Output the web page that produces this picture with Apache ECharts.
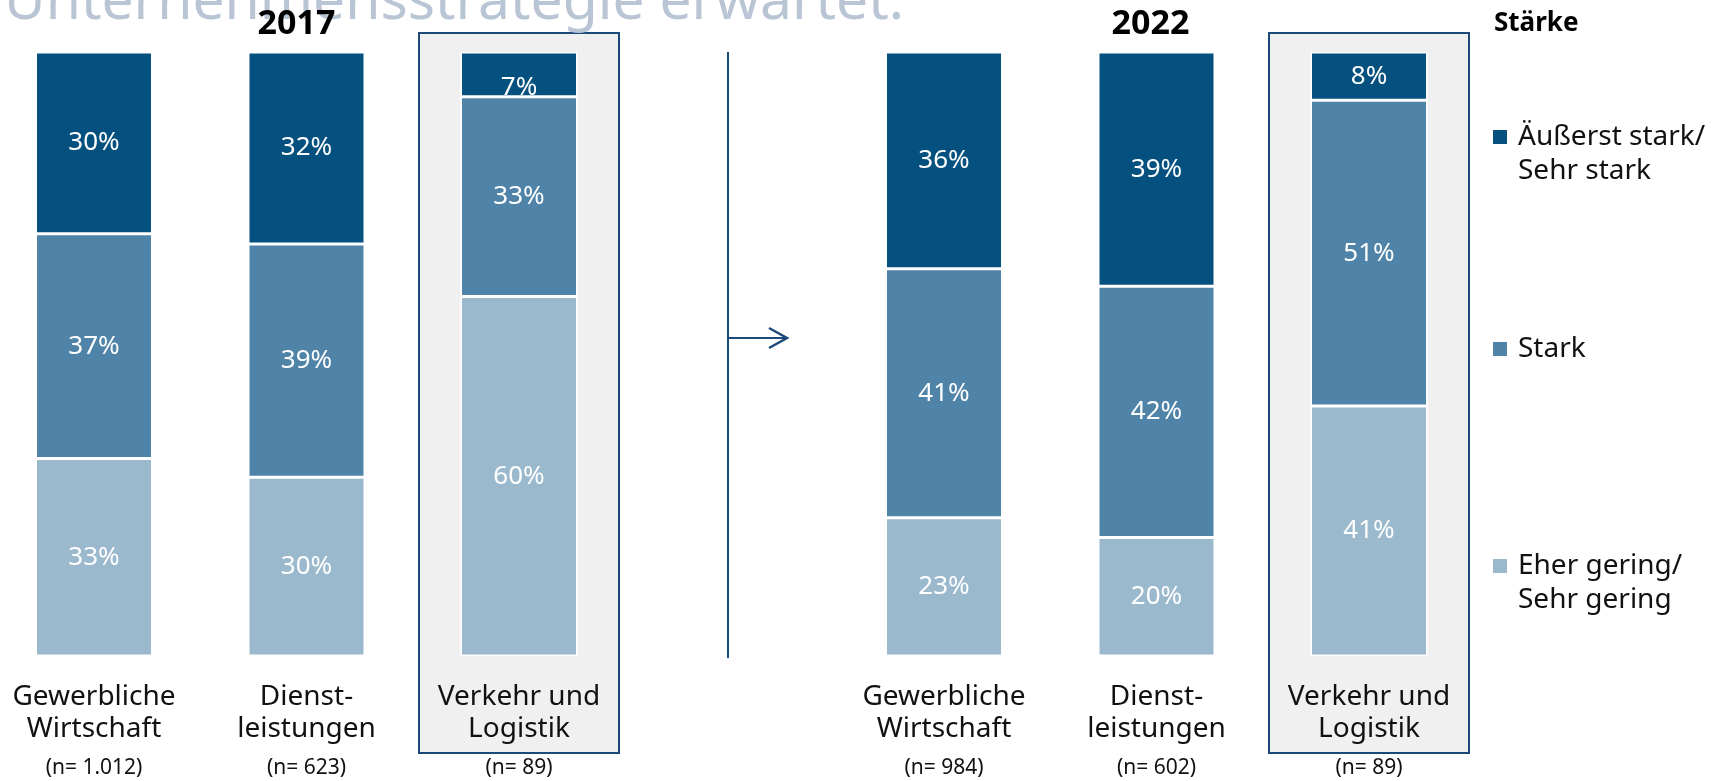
<!DOCTYPE html>
<html>
<head>
<meta charset="utf-8">
<script src="https://cdn.jsdelivr.net/npm/echarts@6/dist/echarts.min.js"></script>
<style>
  html, body { margin: 0; padding: 0; background: #ffffff; }
  #chart { width: 1719px; height: 781px; }
</style>
</head>
<body>
<div id="chart"></div>
<script>
// ---- data ----
const categoryLine1 = ['Gewerbliche', 'Dienst-', 'Verkehr und', '', 'Gewerbliche', 'Dienst-', 'Verkehr und'];
const categoryLine2 = ['Wirtschaft', 'leistungen', 'Logistik', '', 'Wirtschaft', 'leistungen', 'Logistik'];
const sampleSizes   = ['1.012', '623', '89', '', '984', '602', '89'];
const yearLabels    = ['2017', '2022'];
const seriesNames   = ['Eher gering/\nSehr gering', 'Stark', 'Äußerst stark/\nSehr stark'];
// shares (%) per bar, gap slot = null
const shareLow    = [32.7, 29.6, 59.5, null, 22.9, 19.6, 41.4];
const shareStrong = [37.2, 38.6, 33.1, null, 41.2, 41.6, 50.6];
const shareHigh   = [30.1, 31.8, 7.4,  null, 35.9, 38.8, 8.0];
const legendTitle = 'Stärke';
const pageTitle   = 'Unternehmensstrategie erwartet.';

// ---- style ----
const colors = ['#9ab9cd', '#4f84a8', '#04507f'];
const navy = '#1b4a7a';
const FONT = '"Noto Sans", sans-serif';

const chart = echarts.init(document.getElementById('chart'), null, { renderer: 'canvas' });

const categories = categoryLine1.map((l, i) => l ? (l + ' ' + categoryLine2[i]) : ' ');

function makeSeries(name, values, color, idx) {
  return {
    name: name,
    type: 'bar',
    stack: 'total',
    barWidth: 117,
    data: values.map((v, i) => {
      if (v === null) return null;
      const item = { value: v };
      if (idx === 2 && v < 8) item.label = { offset: [0, 13] };
      return item;
    }),
    itemStyle: { color: color, borderColor: '#ffffff', borderWidth: 1.5 },
    label: {
      show: true,
      position: 'inside',
      color: '#ffffff',
      fontFamily: FONT,
      fontSize: 26,
      formatter: p => Math.round(p.value) + '%'
    },
    emphasis: { disabled: true },
    z: 2
  };
}

const option = {
  backgroundColor: '#ffffff',
  animation: false,
  grid: { left: -12.25, top: 52, width: 1487.5, height: 604, containLabel: false, outerBoundsMode: 'none' },
  xAxis: {
    type: 'category',
    data: categories,
    axisLine: { show: false },
    axisTick: { show: false },
    axisLabel: {
      interval: 0,
      margin: 25,
      fontFamily: FONT,
      formatter: (val, i) => categoryLine1[i]
        ? '{a|' + categoryLine1[i] + '}\n{a|' + categoryLine2[i] + '}\n{n|(n= ' + sampleSizes[i] + ')}'
        : '',
      rich: {
        a: { fontFamily: FONT, fontSize: 28, lineHeight: 32, color: '#111111' },
        n: { fontFamily: FONT, fontSize: 21, lineHeight: 46, color: '#111111' }
      }
    }
  },
  yAxis: {
    type: 'value', min: 0, max: 100, show: false, splitLine: { show: false }
  },
  series: [
    makeSeries(seriesNames[0], shareLow, colors[0], 0),
    makeSeries(seriesNames[1], shareStrong, colors[1], 1),
    makeSeries(seriesNames[2], shareHigh, colors[2], 2)
  ]
};
chart.setOption(option);

// ---- decorations positioned through the axis ----
const cx = i => chart.convertToPixel({ xAxisIndex: 0 }, i);
const yTop = chart.convertToPixel({ yAxisIndex: 0 }, 100);
const yBottom = chart.convertToPixel({ yAxisIndex: 0 }, 0);
const gapX = cx(3) - 3.5;
const arrowY = 338;

const graphics = [
  // page title (cut off at top)
  { type: 'text', x: 4, y: 3, z: 5,
    style: { text: pageTitle, fontFamily: FONT, fontSize: 57, fill: '#b9c4d4', verticalAlign: 'middle' } },
  // year headings
  { type: 'text', x: cx(1) - 10, y: 24, z: 5,
    style: { text: yearLabels[0], fontFamily: FONT, fontWeight: 'bold', fontSize: 34, fill: '#000', align: 'center', verticalAlign: 'middle' } },
  { type: 'text', x: cx(5) - 6, y: 24, z: 5,
    style: { text: yearLabels[1], fontFamily: FONT, fontWeight: 'bold', fontSize: 34, fill: '#000', align: 'center', verticalAlign: 'middle' } },
  // highlight boxes
  { type: 'rect', z: -1, shape: { x: cx(2) - 100, y: 33, width: 200, height: 720 },
    style: { fill: '#f0f0f0', stroke: navy, lineWidth: 2 } },
  { type: 'rect', z: -1, shape: { x: cx(6) - 100, y: 33, width: 200, height: 720 },
    style: { fill: '#f0f0f0', stroke: navy, lineWidth: 2 } },
  // separator line and arrow
  { type: 'line', z: 5, shape: { x1: gapX, y1: yTop, x2: gapX, y2: yBottom + 2 },
    style: { stroke: navy, lineWidth: 2 } },
  { type: 'line', z: 5, shape: { x1: gapX, y1: arrowY, x2: gapX + 58, y2: arrowY },
    style: { stroke: navy, lineWidth: 2 } },
  { type: 'polyline', z: 5, shape: { points: [[gapX + 41, arrowY - 10], [gapX + 59, arrowY], [gapX + 41, arrowY + 10]] },
    style: { stroke: navy, lineWidth: 2.5, fill: null } },
  // legend
  { type: 'text', x: 1494, y: 24, z: 5,
    style: { text: legendTitle, fontFamily: FONT, fontWeight: 'bold', fontSize: 26, fill: '#000', verticalAlign: 'middle' } }
];

const legendRows = [
  { name: seriesNames[2], color: colors[2], y: 137 },
  { name: seriesNames[1], color: colors[1], y: 349 },
  { name: seriesNames[0], color: colors[0], y: 566 }
];
legendRows.forEach(r => {
  graphics.push({ type: 'rect', z: 5, shape: { x: 1493, y: r.y - 7, width: 14, height: 14 }, style: { fill: r.color } });
  graphics.push({ type: 'text', x: 1518, y: r.y - 17, z: 5,
    style: { text: r.name, fontFamily: FONT, fontSize: 28, lineHeight: 34, fill: '#111', verticalAlign: 'top' } });
});

chart.setOption({ graphic: graphics });
</script>
</body>
</html>
